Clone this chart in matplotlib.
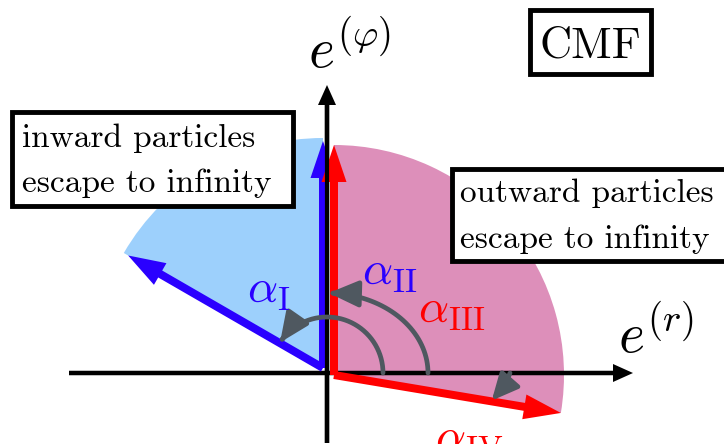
import numpy as np
import matplotlib
matplotlib.use('Agg')
import matplotlib.pyplot as plt
from matplotlib.patches import Wedge, FancyArrowPatch, Rectangle
from matplotlib.path import Path

plt.rcParams['mathtext.fontset'] = 'cm'
plt.rcParams['font.family'] = ['cmr10', 'DejaVu Serif']
plt.rcParams['axes.unicode_minus'] = False

# ==================== 数据 ====================
# 各方向角（度），坐标原点在 e^(r), e^(phi) 轴交点
inward_angles = [90.0, 150.0]     # alpha_II, alpha_I
outward_angles = [-9.5, 90.0]     # alpha_IV, alpha_III
cone_radius = 230.0

arc_labels = [r'$\alpha_{\mathrm{I}}$', r'$\alpha_{\mathrm{II}}$',
              r'$\alpha_{\mathrm{III}}$', r'$\alpha_{\mathrm{IV}}$']
axis_labels = [r'$e^{(r)}$', r'$e^{(\varphi)}$']
box_texts = ['inward particles\nescape to infinity',
             'outward particles\nescape to infinity',
             'CMF']

BLUE = '#2a00ff'
RED = '#ff0000'
LIGHT_BLUE = '#9dd0fc'
PINK = '#dd8fba'
GRAY = '#4f5860'

# ==================== 画布 ====================
fig = plt.figure(figsize=(7.24, 4.44), dpi=100)
ax = fig.add_axes([0, 0, 1, 1])
ax.set_xlim(-327, 397)
ax.set_ylim(-71, 373)
ax.axis('off')


def unit(deg):
    t = np.deg2rad(deg)
    return np.cos(t), np.sin(t)


# 扇形区域
blue_c = (-4, 5)
red_c = (7, -2)
ax.add_patch(Wedge(blue_c, cone_radius, inward_angles[0], inward_angles[1],
                   fc=LIGHT_BLUE, ec='none', zorder=1))
ax.add_patch(Wedge(red_c, cone_radius, outward_angles[0], outward_angles[1],
                   fc=PINK, ec='none', zorder=1))

# 坐标轴
ax.arrow(-258, 0, 564, 0, width=4.5, head_width=18, head_length=20,
         length_includes_head=True, fc='black', ec='none', zorder=3)
ax.arrow(0, -70, 0, 358, width=4.5, head_width=18, head_length=20,
         length_includes_head=True, fc='black', ec='none', zorder=3)

# 边界方向箭头
arrow_kw = dict(width=8, head_width=25, head_length=37, length_includes_head=True,
                ec='none', zorder=4)
for ang in inward_angles:
    dx, dy = unit(ang)
    L = cone_radius - 5 if ang != 90 else cone_radius - 3
    ax.arrow(blue_c[0], blue_c[1], L * dx, L * dy, fc=BLUE, **arrow_kw)
for ang in outward_angles:
    dx, dy = unit(ang)
    L = cone_radius
    ax.arrow(red_c[0], red_c[1], L * dx, L * dy, fc=RED, **arrow_kw)
# 纵轴画在两支竖箭头之间
ax.plot([0, 0], [-70, 268], color='black', lw=3.0, zorder=5, solid_capstyle='butt')


# 角度弧线
arc_style = '-|>,head_length=0.9,head_width=0.4'


def arc_arrow(a0, a1, rx, ry):
    t = np.deg2rad(np.linspace(a0, a1, 40))
    verts = np.column_stack([rx * np.cos(t), ry * np.sin(t)])
    p = FancyArrowPatch(path=Path(verts), arrowstyle=arc_style,
                        mutation_scale=20, lw=3.4, color=GRAY, zorder=6)
    ax.add_patch(p)


arc_arrow(0, inward_angles[1] - 3, 56, 56)
arc_arrow(0, inward_angles[0] - 1, 101, 80)

# alpha_IV：从横轴向下弯到红箭头上
dx, dy = unit(outward_angles[0])
end = (167 * dx, 167 * dy)
ctrl = (end[0] + 14, end[1] + 16)
iv_path = Path([(183, 0), ctrl, end], [Path.MOVETO, Path.CURVE3, Path.CURVE3])
ax.add_patch(FancyArrowPatch(path=iv_path,
                             arrowstyle='-|>,head_length=0.8,head_width=0.38',
                             mutation_scale=20, lw=3.4, color=GRAY, zorder=6))

# 角标注
ax.text(-80, 70, arc_labels[0], color=BLUE, fontsize=34, ha='left', va='baseline', zorder=7)
ax.text(35, 88, arc_labels[1], color=BLUE, fontsize=34, ha='left', va='baseline', zorder=7)
ax.text(91, 50, arc_labels[2], color=RED, fontsize=34, ha='left', va='baseline', zorder=7)
ax.text(108, -78, arc_labels[3], color=RED, fontsize=34, ha='left', va='baseline', zorder=7)

# 轴标注
ax.text(291, 20, axis_labels[0], fontsize=40, ha='left', va='baseline')
ax.text(-19, 305, axis_labels[1], fontsize=40, ha='left', va='baseline')

# 文字框
frame_kw = dict(fc='white', ec='black', lw=3.5, zorder=8)
ax.add_patch(Rectangle((-315, 167), 281, 94, **frame_kw))
ax.add_patch(Rectangle((125, 112), 280, 92, **frame_kw))
ax.add_patch(Rectangle((203, 299), 121, 64, **frame_kw))

left_lines = box_texts[0].split('\n')
right_lines = box_texts[1].split('\n')
for i, (yl, yr) in enumerate(zip([226, 181], [171, 125])):
    ax.text(-305, yl, left_lines[i], fontsize=24, ha='left', va='baseline', zorder=9)
    ax.text(133, yr, right_lines[i], fontsize=24, ha='left', va='baseline', zorder=9)
ax.text(263.5, 331, box_texts[2], fontsize=32, ha='center', va='center_baseline', zorder=9)

fig.savefig('out.png', dpi=100)
